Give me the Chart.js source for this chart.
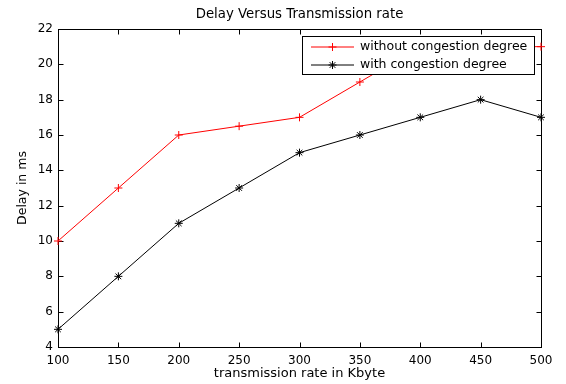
<!DOCTYPE html>
<html>
<head>
<meta charset="utf-8">
<script src="https://cdn.jsdelivr.net/npm/chart.js@4/dist/chart.umd.min.js"></script>
<style>
  html, body { margin: 0; padding: 0; background: #fff; }
  #wrap { width: 566px; height: 384px; position: relative; }
</style>
</head>
<body>
<div id="wrap"><canvas id="c" width="566" height="384"></canvas></div>
<script>
const chartTitle = "Delay Versus Transmission rate";
const xTitle = "transmission rate in Kbyte";
const yTitle = "Delay in ms";
const rates = [100, 150, 200, 250, 300, 350, 400, 450, 500];
const withoutCongestion = [10, 13, 16, 16.5, 17, 19, 21, 21, 21];
const withCongestion = [5, 8, 11, 13, 15, 16, 17, 18, 17];
const seriesLabels = ["without congestion degree", "with congestion degree"];
const xMin = 100, xMax = 500, xStep = 50;
const yMin = 4, yMax = 22, yStep = 2;

const FONT = "'DejaVu Sans', 'Liberation Sans', Arial, sans-serif";

const toXY = (ys) => rates.map((x, i) => ({ x: x, y: ys[i] }));

const frame = {
  id: 'frame',
  beforeDatasetsDraw(chart) {
    const { ctx, chartArea: a, scales } = chart;
    ctx.save();
    ctx.strokeStyle = '#000';
    ctx.lineWidth = 1;
    const L = Math.round(a.left) + 0.5, R = Math.round(a.right) + 0.5;
    const T = Math.round(a.top) + 0.5, B = Math.round(a.bottom) + 0.5;
    ctx.strokeRect(L, T, R - L, B - T);
    const tl = 5;
    ctx.beginPath();
    scales.x.ticks.forEach((t, i) => {
      const px = Math.round(scales.x.getPixelForTick(i)) + 0.5;
      ctx.moveTo(px, B); ctx.lineTo(px, B - tl);
      ctx.moveTo(px, T); ctx.lineTo(px, T + tl);
    });
    scales.y.ticks.forEach((t, i) => {
      const py = Math.round(scales.y.getPixelForTick(i)) + 0.5;
      ctx.moveTo(L, py); ctx.lineTo(L + tl, py);
      ctx.moveTo(R, py); ctx.lineTo(R - tl, py);
    });
    ctx.stroke();
    // title
    ctx.fillStyle = '#000';
    ctx.font = '13.3px ' + FONT;
    ctx.textAlign = 'center';
    ctx.textBaseline = 'middle';
    ctx.fillText(chartTitle, (a.left + a.right) / 2, 15);
    ctx.restore();
  },
  afterDatasetsDraw(chart) {
    const { ctx, chartArea: a } = chart;
    ctx.save();
    const boxR = a.right - 7, boxT = a.top + 7;
    const boxW = 232, boxH = 38;
    const boxL = boxR - boxW;
    ctx.fillStyle = '#fff';
    ctx.fillRect(boxL, boxT, boxW, boxH);
    ctx.strokeStyle = '#000';
    ctx.lineWidth = 1;
    ctx.strokeRect(Math.round(boxL) + 0.5, Math.round(boxT) + 0.5, boxW, boxH);
    ctx.font = '12.5px ' + FONT;
    ctx.textAlign = 'left';
    ctx.textBaseline = 'middle';
    chart.data.datasets.forEach((ds, i) => {
      const cy = boxT + 11 + i * 18;
      const x0 = boxL + 9, x1 = boxL + 52;
      ctx.strokeStyle = ds.borderColor;
      ctx.lineWidth = 1;
      ctx.beginPath();
      ctx.moveTo(x0, cy); ctx.lineTo(x1, cy);
      ctx.stroke();
      Chart.helpers.drawPoint(ctx, {
        pointStyle: ds.pointStyle, radius: ds.pointRadius, rotation: 0,
        borderWidth: 1
      }, (x0 + x1) / 2, cy);
      ctx.fillStyle = '#000';
      ctx.fillText(ds.label, boxL + 58, cy);
    });
    ctx.restore();
  }
};

new Chart(document.getElementById('c'), {
  type: 'line',
  data: {
    datasets: [
      {
        label: seriesLabels[0], data: toXY(withoutCongestion),
        borderColor: '#ff0000', backgroundColor: '#ff0000', borderWidth: 1,
        pointStyle: 'cross', pointRadius: 4, pointBorderWidth: 1,
        pointBorderColor: '#ff0000', tension: 0, clip: false
      },
      {
        label: seriesLabels[1], data: toXY(withCongestion),
        borderColor: '#000000', backgroundColor: '#000000', borderWidth: 1,
        pointStyle: 'star', pointRadius: 4, pointBorderWidth: 1,
        pointBorderColor: '#000000', tension: 0, clip: false
      }
    ]
  },
  options: {
    responsive: false,
    animation: false,
    devicePixelRatio: 1,
    layout: { padding: { top: 29, right: 25, bottom: 0, left: 0 } },
    plugins: { legend: { display: false }, title: { display: false }, tooltip: { enabled: false } },
    scales: {
      x: {
        type: 'linear', min: xMin, max: xMax,
        afterFit: (s) => { s.height = 37; },
        ticks: { stepSize: xStep, color: '#000', font: { family: FONT, size: 12 }, padding: 7, maxRotation: 0 },
        grid: { display: false, drawTicks: false },
        border: { display: false },
        title: { display: true, text: xTitle, color: '#000', font: { family: FONT, size: 13 }, padding: { top: 3, bottom: 3 } }
      },
      y: {
        type: 'linear', min: yMin, max: yMax,
        afterFit: (s) => { s.width = 58; },
        ticks: { stepSize: yStep, color: '#000', font: { family: FONT, size: 12 }, padding: 5 },
        grid: { display: false, drawTicks: false },
        border: { display: false },
        title: { display: true, text: yTitle, color: '#000', font: { family: FONT, size: 12.5 }, padding: { top: 15, bottom: 15 } }
      }
    }
  },
  plugins: [frame]
});
</script>
</body>
</html>
